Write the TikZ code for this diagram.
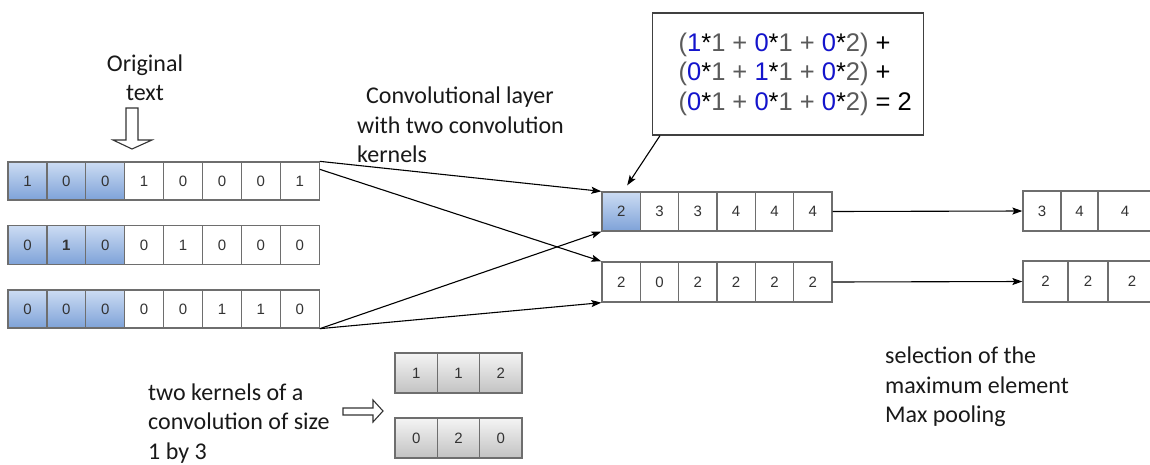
\documentclass[tikz,border=0pt]{standalone}
\usepackage{fontspec}
\setmainfont{Carlito}
\newfontfamily\digitfont{Liberation Sans}
\usetikzlibrary{arrows.meta,calc}
\definecolor{cellline}{HTML}{6E6E6E}
\definecolor{celltext}{HTML}{333333}
\definecolor{bluetop}{HTML}{CCDCF3}
\definecolor{bluebot}{HTML}{7EA2D8}
\definecolor{graytop}{HTML}{F4F4F4}
\definecolor{graybot}{HTML}{C2C2C2}
\definecolor{fblue}{HTML}{1414CC}
\definecolor{fgray}{HTML}{5A5A5A}
\newcommand\fb[1]{\textcolor{fblue}{#1}}
\newcommand\fg[1]{\textcolor{fgray}{#1}}
\begin{document}
\begin{tikzpicture}[x=1pt,y=-1pt,
  cell/.style={draw=cellline, line width=1.3pt, inner sep=0pt, fill=white,
    font=\digitfont\fontsize{15}{17}\selectfont, text=celltext},
  bluecell/.style={cell, top color=bluetop, bottom color=bluebot},
  graycell/.style={cell, top color=graytop, bottom color=graybot},
  label/.style={inner sep=0pt, font=\fontsize{24}{29.5}\selectfont, text=black!90},
  conn/.style={line width=1.1pt, -{Stealth[length=10pt,width=7pt,inset=2pt]}},
  hollow/.style={draw=black!80, line width=1.1pt, fill=white}]
\clip (0,0) rectangle (1150,464);
\fill[white] (0,0) rectangle (1150,464);

% input sentence: three rows of eight cells, the first three shaded
\foreach \v [count=\i] in {1,0,0,1,0,0,0,1} {
  \ifnum\i<4 \def\cs{bluecell}\else\def\cs{cell}\fi
  \node[\cs, minimum width=38.9pt, minimum height=38pt] (in1-\i) at ({8+38.9*(\i-0.5)},181) {\v};
}
\foreach \v [count=\i] in {0,\textbf{1},0,0,1,0,0,0} {
  \ifnum\i<4 \def\cs{bluecell}\else\def\cs{cell}\fi
  \node[\cs, minimum width=38.9pt, minimum height=39pt] (in2-\i) at ({8+38.9*(\i-0.5)},245) {\v};
}
\foreach \v [count=\i] in {0,0,0,0,0,1,1,0} {
  \ifnum\i<4 \def\cs{bluecell}\else\def\cs{cell}\fi
  \node[\cs, minimum width=38.9pt, minimum height=38pt] (in3-\i) at ({8+38.9*(\i-0.5)},309) {\v};
}

% feature maps
\foreach \v [count=\i] in {2,3,3,4,4,4} {
  \ifnum\i<2 \def\cs{bluecell}\else\def\cs{cell}\fi
  \node[\cs, minimum width=38.33pt, minimum height=39pt] (out1-\i) at ({602+38.33*(\i-0.5)},211.5) {\v};
}
\foreach \v [count=\i] in {2,0,2,2,2,2} {
  \node[cell, minimum width=38.33pt, minimum height=40pt] (out2-\i) at ({602+38.33*(\i-0.5)},282) {\v};
}

% pooled values
\node[cell, minimum width=38pt, minimum height=40pt] (pool1-1) at (1042,211) {3};
\node[cell, minimum width=37pt, minimum height=40pt] (pool1-2) at (1079.5,211) {4};
\node[cell, minimum width=54pt, minimum height=40pt] (pool1-3) at (1125,211) {4};
\node[cell, minimum width=45pt, minimum height=41pt] (pool2-1) at (1045.5,281.5) {2};
\node[cell, minimum width=40pt, minimum height=41pt] (pool2-2) at (1088,281.5) {2};
\node[cell, minimum width=48pt, minimum height=41pt] (pool2-3) at (1132,281.5) {2};

% the two 1x3 kernels
\foreach \v [count=\i] in {1,1,2} {
  \node[graycell, minimum width=42.3pt, minimum height=40pt] (k1-\i) at ({395+42.33*(\i-0.5)},373) {\v};
}
\foreach \v [count=\i] in {0,2,0} {
  \node[graycell, minimum width=42.3pt, minimum height=40pt] (k2-\i) at ({395+42.33*(\i-0.5)},438) {\v};
}

% worked computation of the first output value
\node[draw=black!75, line width=1.3pt, inner sep=0pt, minimum height=122pt, anchor=west,
  font=\digitfont\fontsize{25.5}{29.5}\selectfont] (formula) at (652,74)
  {\hspace*{26pt}\parbox{245pt}{%
    \fg{(}\fb{1}*\fg{1 + }\fb{0}*\fg{1 + }\fb{0}*\fg{2)} +\\
    \fg{(}\fb{0}*\fg{1 + }\fb{1}*\fg{1 + }\fb{0}*\fg{2)} +\\
    \fg{(}\fb{0}*\fg{1 + }\fb{0}*\fg{1 + }\fb{0}*\fg{2)} = 2}};

% labels
\node[label, align=center] (orig) at (145,78) {Original\\text};
\node[label, align=left, anchor=west] (convlabel) at (357,125)
  {\hspace*{9pt}Convolutional layer\\with two convolution\\kernels};
\node[label, align=left, anchor=west] (kernlabel) at (148,423.5)
  {two kernels of a\\convolution of size\\1 by 3};
\node[label, align=left, anchor=west] (poollabel) at (885,387)
  {selection of the\\maximum element\\Max pooling};

% hollow block arrows
\draw[hollow] (126,108) -- (138,108) -- (138,140) -- (152,140) -- (132,149)
  -- (113,140) -- (126,140) -- cycle;
\draw[hollow] (343,408) -- (373,408) -- (373,400) -- (383,411) -- (373,422)
  -- (373,415) -- (343,415) -- cycle;

% connectors
\draw[conn] (in1-8.north east) -- (out1-1.north west);
\draw[conn] ([yshift=-8pt]in1-8.north east) -- (out2-1.north west);
\draw[conn] (in3-8.south east) -- (out1-1.south west);
\draw[conn] (in3-8.south east) -- (out2-1.south west);
\draw[conn] (out1-6.east) -- (pool1-1.west);
\draw[conn] (out2-6.east) -- (pool2-1.west);
\draw[conn] ([xshift=8pt]formula.south west) -- ([xshift=6pt,yshift=6pt]out1-1.north);
\end{tikzpicture}
\end{document}
